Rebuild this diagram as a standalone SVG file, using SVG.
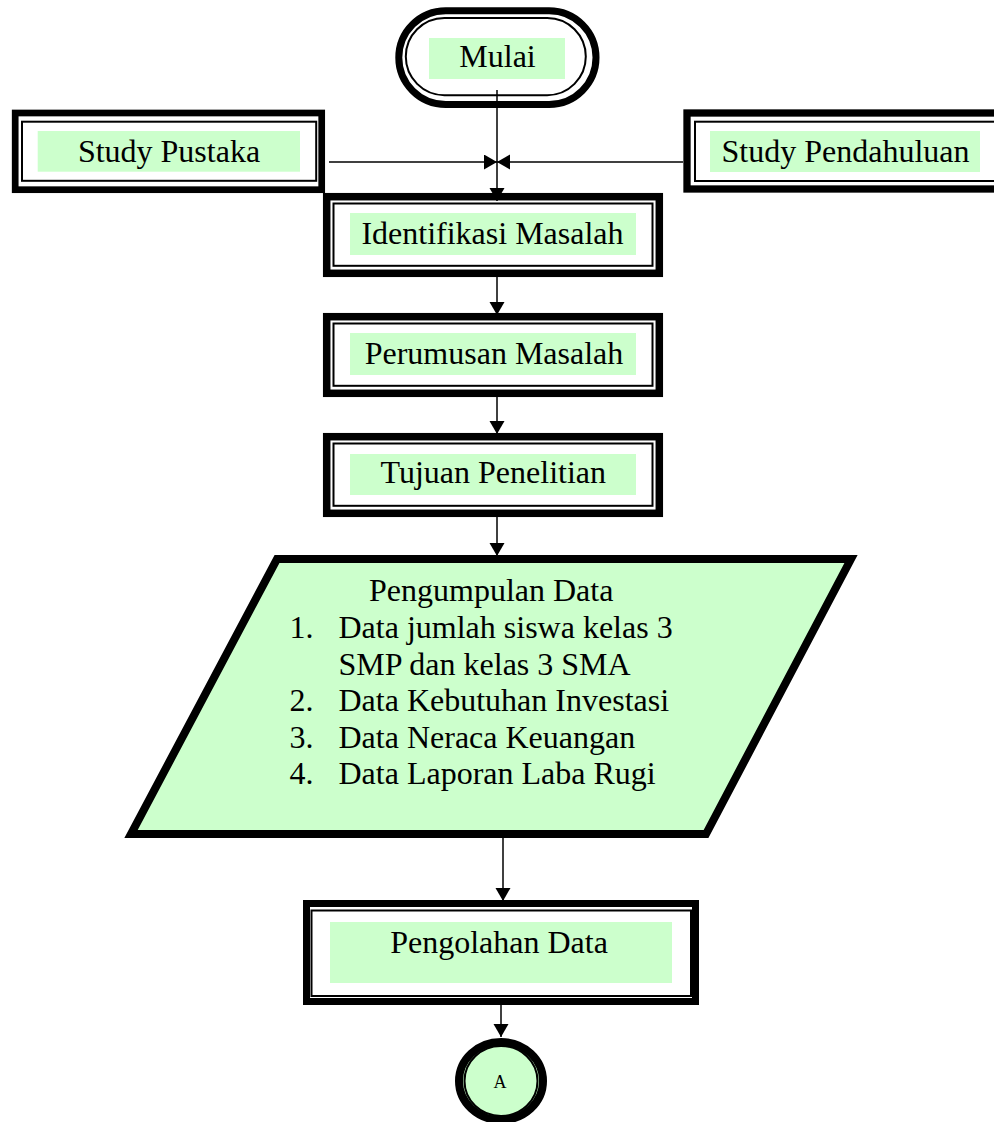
<svg xmlns="http://www.w3.org/2000/svg" width="994" height="1122" viewBox="0 0 994 1122">
<style>
.outer{fill:#fff;stroke:#000;stroke-width:7}
.inner{fill:none;stroke:#000;stroke-width:2}
.hl{fill:#ccffcc}
.t{font-family:"Liberation Serif","Times New Roman",serif;font-size:32px;fill:#000}
.c{text-anchor:middle}
.conn{stroke:#000;stroke-width:1.5;fill:none}
</style>
<defs>
<marker id="ah" markerUnits="userSpaceOnUse" markerWidth="14" markerHeight="16" refX="13" refY="7.5" orient="auto">
<path d="M0,0 L13,7.5 L0,15 Z" fill="#000"/>
</marker>
</defs>
<rect width="994" height="1122" fill="#fff"/>

<g id="mulai">
<rect class="outer" x="398.8" y="10.7" width="197.2" height="93.8" rx="46.9"/>
<rect class="inner" x="405.8" y="18" width="180" height="77.2" rx="38.6"/>
<rect class="hl" x="429" y="38" width="136" height="41"/>
<text class="t c" x="497.5" y="67">Mulai</text>
</g>

<g id="study-pustaka">
<rect class="outer" x="15.2" y="113" width="306.5" height="76.7" style="stroke-width:6.7"/>
<rect class="inner" x="22" y="121.7" width="294.2" height="59.1"/>
<rect class="hl" x="37.7" y="131" width="262.3" height="40.7"/>
<text class="t c" x="169" y="162">Study Pustaka</text>
</g>

<g id="study-pendahuluan">
<rect class="outer" x="687" y="113" width="340" height="76" style="stroke-width:7.3"/>
<rect class="inner" x="695" y="121.7" width="320" height="59.3"/>
<rect class="hl" x="710" y="131" width="270" height="41"/>
<text class="t c" x="845.5" y="162">Study Pendahuluan</text>
</g>

<g id="identifikasi">
<rect class="outer" x="326.7" y="196.7" width="332.6" height="76.6" style="stroke-width:7.5"/>
<rect class="inner" x="333.5" y="203.5" width="319" height="62.3"/>
<rect class="hl" x="350" y="213" width="286" height="42"/>
<text class="t c" x="492.5" y="244">Identifikasi Masalah</text>
</g>

<g id="perumusan">
<rect class="outer" x="326.7" y="316.7" width="332.6" height="76.6" style="stroke-width:7.5"/>
<rect class="inner" x="333.5" y="323.5" width="319" height="62.3"/>
<rect class="hl" x="350" y="333" width="286" height="42"/>
<text class="t c" x="494" y="364">Perumusan Masalah</text>
</g>

<g id="tujuan">
<rect class="outer" x="326.7" y="436.7" width="332.6" height="76.6" style="stroke-width:7.5"/>
<rect class="inner" x="333.5" y="443.5" width="319" height="62.3"/>
<rect class="hl" x="350" y="454" width="286" height="41"/>
<text class="t c" x="493.3" y="483">Tujuan Penelitian</text>
</g>

<g id="pengumpulan">
<polygon points="277,559 851,559 706,834 131,834" fill="#ccffcc" stroke="#000" stroke-width="8"/>
<text class="t" x="369" y="601">Pengumpulan Data</text>
<text class="t" x="289.5" y="638">1.</text>
<text class="t" x="338.5" y="638">Data jumlah siswa kelas 3</text>
<text class="t" x="338.5" y="674.5">SMP dan kelas 3 SMA</text>
<text class="t" x="289.5" y="711">2.</text>
<text class="t" x="338.5" y="711">Data Kebutuhan Investasi</text>
<text class="t" x="289.5" y="747.5">3.</text>
<text class="t" x="338.5" y="747.5">Data Neraca Keuangan</text>
<text class="t" x="289.5" y="784">4.</text>
<text class="t" x="338.5" y="784">Data Laporan Laba Rugi</text>
</g>

<g id="pengolahan">
<rect class="outer" x="306.5" y="903.5" width="389" height="98"/>
<rect class="inner" x="311.5" y="910.5" width="379.5" height="85.5"/>
<rect class="hl" x="330" y="922" width="342" height="61"/>
<text class="t c" x="499" y="953">Pengolahan Data</text>
</g>

<g id="connector-a">
<ellipse cx="501" cy="1081" rx="42" ry="39" fill="#ccffcc" stroke="#000" stroke-width="8"/>
<ellipse cx="501" cy="1081" rx="36.5" ry="35" fill="none" stroke="#000" stroke-width="2"/>
<text x="500" y="1087.5" style="font-family:'Liberation Serif','Times New Roman',serif;font-size:18px;text-anchor:middle">A</text>
</g>

<g id="connectors">
<line class="conn" x1="497" y1="90" x2="497" y2="201" marker-end="url(#ah)"/>
<line class="conn" x1="329" y1="162" x2="497" y2="162" marker-end="url(#ah)"/>
<line class="conn" x1="683" y1="162" x2="497" y2="162" marker-end="url(#ah)"/>
<line class="conn" x1="497" y1="277" x2="497" y2="315" marker-end="url(#ah)"/>
<line class="conn" x1="497" y1="397" x2="497" y2="434" marker-end="url(#ah)"/>
<line class="conn" x1="497" y1="517" x2="497" y2="556" marker-end="url(#ah)"/>
<line class="conn" x1="503" y1="838" x2="503" y2="901" marker-end="url(#ah)"/>
<line class="conn" x1="501" y1="1005" x2="501" y2="1037" marker-end="url(#ah)"/>
</g>
</svg>
